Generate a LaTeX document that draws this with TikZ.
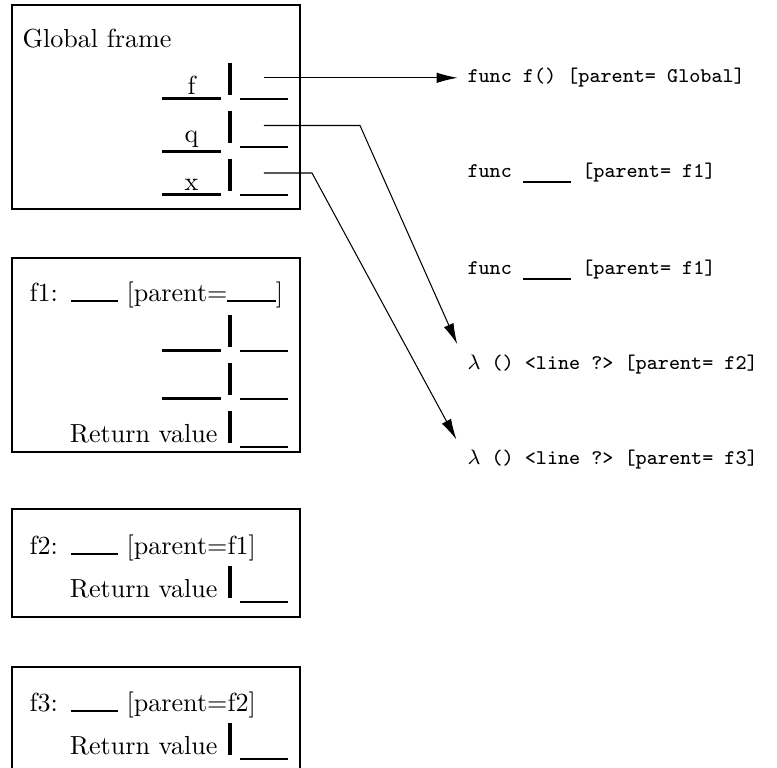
\documentclass[tikz,border=0pt]{standalone}
\usetikzlibrary{arrows.meta}
\begin{document}
\begin{tikzpicture}[x=0.383pt,y=-0.383pt,
  frame/.style={draw,line width=0.5pt},
  blank/.style={line width=0.8pt},
  bar/.style={line width=1.3pt},
  ptr/.style={-{Latex[length=8pt,width=4pt]},line width=0.4pt},
  lbl/.style={inner sep=0pt,anchor=base west},
  var/.style={inner sep=0pt,anchor=base},
  ret/.style={inner sep=0pt,anchor=base east},
  obj/.style={inner sep=0pt,anchor=base west,font=\ttfamily\footnotesize}]
  \useasboundingbox (0,0) rectangle (777,768);

  % frames
  \draw[frame] (12,5) rectangle (300,209);
  \draw[frame] (12,258) rectangle (300,452);
  \draw[frame] (12,509) rectangle (300,617);
  \draw[frame] (12,667) rectangle (300,775);

  % global frame
  \node[lbl] (global) at (22,48) {Global frame};
  \node[var] (nf) at (191.5,95) {f};
  \node[var] (nq) at (191.5,143) {q};
  \node[var] (nx) at (191.5,191) {x};
  \draw[blank] (162,98.5) -- (221,98.5);
  \draw[blank] (162,151.5) -- (221,151.5);
  \draw[blank] (162,194.5) -- (221,194.5);
  \foreach \b in {95,143,191,347,395,443,598,755} {
    \draw[bar] (230,\b-32) -- (230,\b);
    \draw[blank] (240,\b+3.8) -- (288,\b+3.8);
  }

  % f1, f2, f3
  \node[lbl] (f1head) at (29,302) {f1:\hspace{5pt}\rule{18pt}{0.8pt} [parent=\rule{18.5pt}{0.8pt}]};
  \draw[blank] (162,350.5) -- (221,350.5);
  \draw[blank] (162,398.5) -- (221,398.5);
  \node[ret] (ret1) at (218,443) {Return value};
  \node[lbl] (f2head) at (29,555) {f2:\hspace{5pt}\rule{18pt}{0.8pt} [parent=f1]};
  \node[ret] (ret2) at (218,598) {Return value};
  \node[lbl] (f3head) at (29,712) {f3:\hspace{5pt}\rule{18pt}{0.8pt} [parent=f2]};
  \node[ret] (ret3) at (218,755) {Return value};

  % objects
  \node[obj] (funcf) at (467,83) {func f() [parent= Global]};
  \node[obj] (funcA) at (467,178) {func \rule[-1.8pt]{18.5pt}{0.8pt} [parent= f1]};
  \node[obj] (funcB) at (467,275) {func \rule[-1.8pt]{18.5pt}{0.8pt} [parent= f1]};
  \node[obj] (lamA) at (467,370) {$\lambda$ () <line ?> [parent= f2]};
  \node[obj] (lamB) at (467,465) {$\lambda$ () <line ?> [parent= f3]};

  % pointers
  \coordinate (fOut) at (264,77.8);
  \coordinate (qOut) at (264,125.5);
  \coordinate (qBend) at (360,125.5);
  \coordinate (xOut) at (264,173);
  \coordinate (xBend) at (312,173);
  \draw[ptr,shorten >=3.6pt] (fOut) -- (fOut -| funcf.west);
  \draw[ptr,shorten >=4.5pt] (qOut) -- (qBend) -- ([xshift=-1.9pt]lamA.north west);
  \draw[ptr,shorten >=4.5pt] (xOut) -- (xBend) -- ([xshift=-1.9pt]lamB.north west);
\end{tikzpicture}
\end{document}
